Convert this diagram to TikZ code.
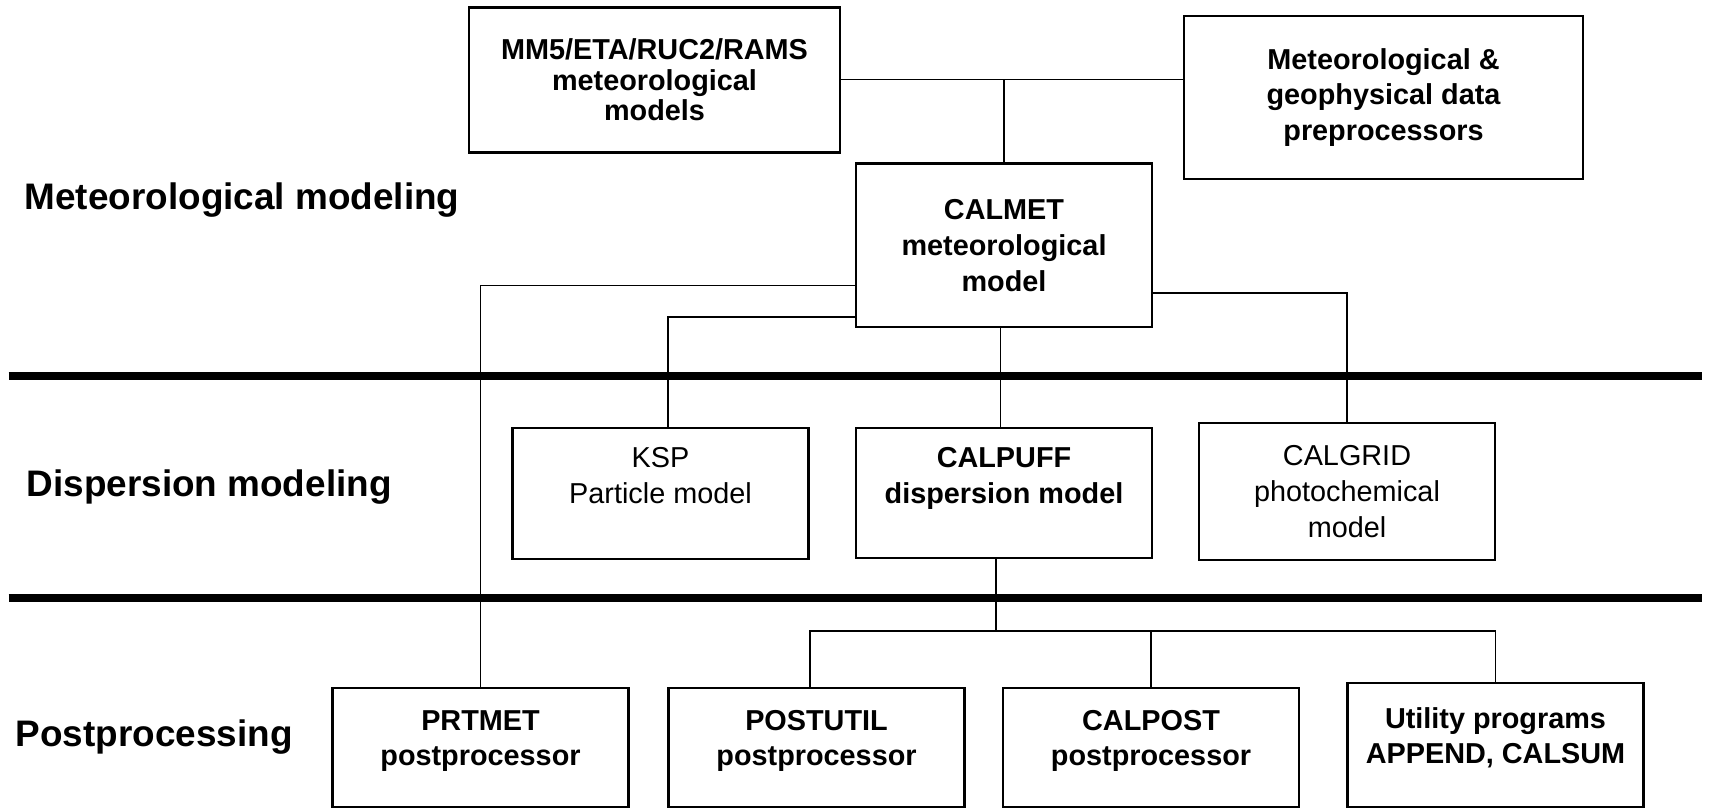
\documentclass[tikz,border=0pt]{standalone}
\usepackage{fontspec}
\setmainfont{Liberation Sans}
\begin{document}
\begin{tikzpicture}[model/.style={rectangle, draw, line width=0.7pt, align=center, minimum width=2.96cm, font=\fontsize{8.2}{10.2}\selectfont}, layer/.style={anchor=west, inner sep=0pt, font=\fontsize{10.5}{12}\selectfont\bfseries}]
\tikzset{bmodel/.style={model, font=\fontsize{8.2}{10.2}\selectfont\bfseries}, link/.style={line width=0.5pt}, bar/.style={line width=2pt}}
\useasboundingbox (0,0) rectangle (17.09,8.08);

\node[bmodel, minimum width=3.71cm, minimum height=1.45cm, font=\fontsize{8.2}{8.7}\selectfont\bfseries] (0) at (6.545,7.28) {MM5/ETA/RUC2/RAMS\\meteorological\\models};
\node[bmodel, minimum width=3.99cm, minimum height=1.63cm] (1) at (13.835,7.105) {Meteorological \&\\geophysical data\\preprocessors};
\node[bmodel, minimum height=1.635cm] (2) at (10.04,5.627) {CALMET\\meteorological\\model};
\node[model, minimum height=1.31cm] (3) at (6.605,3.145) {KSP\\Particle model\\~};
\node[bmodel, minimum height=1.30cm] (4) at (10.04,3.15) {CALPUFF\\dispersion model\\~};
\node[model, minimum height=1.37cm] (5) at (13.47,3.165) {CALGRID\\photochemical\\model};
\node[bmodel, minimum height=1.19cm] (6) at (4.805,0.605) {PRTMET\\postprocessor\\[-4.8pt]~};
\node[bmodel, minimum height=1.19cm] (7) at (8.165,0.605) {POSTUTIL\\postprocessor\\[-4.8pt]~};
\node[bmodel, minimum height=1.19cm] (8) at (11.51,0.605) {CALPOST\\postprocessor\\[-4.8pt]~};
\node[bmodel, minimum height=1.24cm] (9) at (14.955,0.63) {Utility programs\\APPEND, CALSUM\\[-4.8pt]~};

\node[layer] (m) at (0.24,6.08) {Meteorological modeling};
\node[layer] (d) at (0.26,3.21) {Dispersion modeling};
\node[layer] (p) at (0.15,0.71) {Postprocessing};

% layer separators
\draw[bar] (0.087,4.32) -- (17.02,4.32);
\draw[bar] (0.087,2.10) -- (17.02,2.10);

\coordinate (j0) at (10.04,7.284);
\coordinate (c6) at (4.77,5.224);
\coordinate (c3) at (6.68,4.91);
\coordinate (c5) at (13.48,5.15);
\coordinate (bus) at (9.96,1.77);

\draw[link] (0.east |- j0) -- (1.west |- j0);
\draw[link] (j0) -- (2.north);
\draw[link] (2.west |- c6) -| (6.north);
\draw[link] (2.west |- c3) -| ([xshift=0.075cm]3.north);
\draw[link] ([xshift=-0.035cm]2.south) -- ([xshift=-0.035cm]4.north);
\draw[link] (2.east |- c5) -| (5.north);
\draw[link] ([xshift=-0.08cm]4.south) -- (bus);
\draw[link] ([xshift=-0.065cm]7.north) |- (bus) -| (9.north);
\draw[link] (8.north) -- (8.north |- bus);
\end{tikzpicture}
\end{document}
